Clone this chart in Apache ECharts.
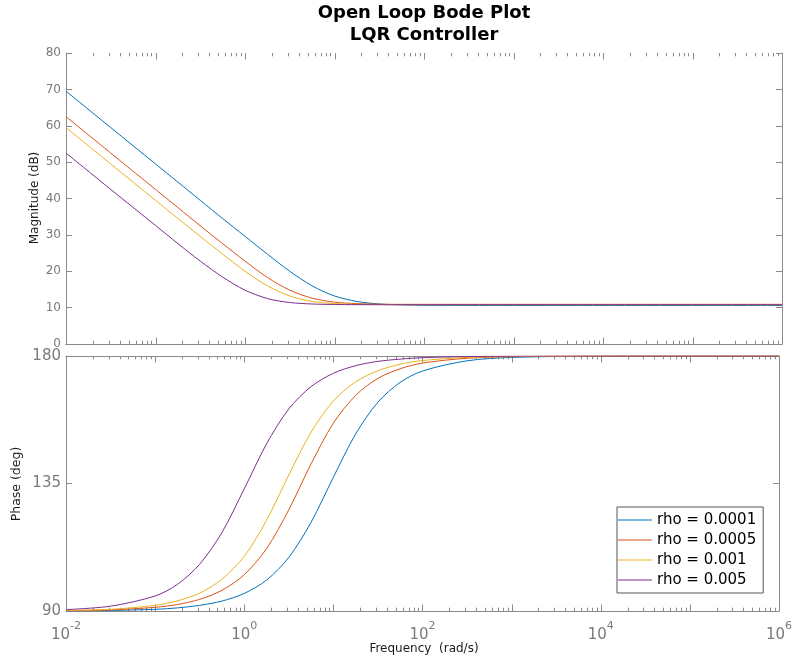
<!DOCTYPE html>
<html>
<head>
<meta charset="utf-8">
<script src="https://cdn.jsdelivr.net/npm/echarts@6/dist/echarts.min.js"></script>
<style>
  html, body { margin: 0; padding: 0; background: #ffffff; }
  #chart { width: 795px; height: 659px; }
</style>
</head>
<body>
<div id="chart"></div>
<script>
// Frequency samples (rad/s)
const freq = [0.01, 0.0316, 0.1, 0.178, 0.316, 0.562, 1, 1.78, 3.16, 5.62,
              10, 17.8, 31.6, 56.2, 100, 316, 1000, 10000, 100000, 1000000];

const seriesNames = ['rho = 0.0001', 'rho = 0.0005', 'rho = 0.001', 'rho = 0.005'];

// Magnitude (dB)
const magRho0001 = [69.5, 59.5, 49.5, 44.5, 39.5, 34.5, 29.6, 24.7, 20.0, 16.0,
                    13.2, 11.7, 11.0, 10.75, 10.65, 10.6, 10.6, 10.6, 10.6, 10.6];
const magRho0005 = [62.5, 52.5, 42.5, 37.5, 32.5, 27.6, 22.8, 18.3, 14.8, 12.6,
                    11.5, 11.1, 10.95, 10.9, 10.9, 10.9, 10.9, 10.9, 10.9, 10.9];
const magRho001  = [59.5, 49.5, 39.5, 34.5, 29.6, 24.7, 20.0, 16.0, 13.2, 11.7,
                    11.1, 10.9, 10.83, 10.8, 10.8, 10.8, 10.8, 10.8, 10.8, 10.8];
const magRho005  = [52.5, 42.5, 32.6, 27.6, 22.8, 18.4, 14.8, 12.5, 11.4, 11.0,
                    10.86, 10.82, 10.8, 10.8, 10.8, 10.8, 10.8, 10.8, 10.8, 10.8];

// Phase (deg)
const phaseRho0001 = [90.1, 90.2, 90.6, 91.1, 92.0, 93.5, 96.2, 100.9, 108.9, 121.3,
                      137.2, 152.5, 163.7, 170.7, 174.7, 178.3, 179.5, 179.95, 180, 180];
const phaseRho0005 = [90.1, 90.4, 91.3, 92.3, 94.1, 97.3, 102.8, 112.0, 125.7, 141.9,
                      156.3, 166.1, 172.1, 175.5, 177.5, 179.2, 179.75, 179.97, 180, 180];
const phaseRho001  = [90.2, 90.6, 92.0, 93.6, 96.3, 101.2, 109.3, 122.0, 138.0, 153.1,
                      164.1, 170.9, 174.8, 177.1, 178.4, 179.5, 179.8, 179.98, 180, 180];
const phaseRho005  = [90.5, 91.7, 95.3, 99.4, 106.5, 117.7, 133.1, 149.0, 161.3, 169.2,
                      173.9, 176.6, 178.1, 178.9, 179.4, 179.8, 179.94, 180, 180, 180];

// Decades that carry a label on the frequency axis
const freqLabelExponents = [-2, 0, 2, 4, 6];

const colors = ['#0072BD', '#D95319', '#EDB120', '#7E2F8E'];
const axisColor = '#8a8a8a';
const labelColor = '#7a7a7a';
const font = 'DejaVu Sans';

const magSets = [magRho0001, magRho0005, magRho001, magRho005];
const phaseSets = [phaseRho0001, phaseRho0005, phaseRho001, phaseRho005];

const pairs = (ys) => freq.map((f, i) => [f, ys[i]]);

// Log ticks: decades get long marks, 2..9 within each decade get short marks
const logTicks = [];
for (let e = -2; e <= 6; e++) {
  logTicks.push([Math.pow(10, e), 6.5]);
  if (e < 6) {
    for (let m = 2; m <= 9; m++) logTicks.push([m * Math.pow(10, e), 3.3]);
  }
}

function logTickSeries(xIdx, yIdx, yMin, yMax) {
  return {
    type: 'custom',
    xAxisIndex: xIdx,
    yAxisIndex: yIdx,
    silent: true,
    clip: false,
    z: 1,
    encode: { x: 0, y: 1 },
    data: logTicks.map(t => [t[0], yMin, t[1]]),
    renderItem(params, api) {
      const x = api.value(0);
      const len = api.value(2);
      const pb = api.coord([x, yMin]);
      const pt = api.coord([x, yMax]);
      const px = Math.round(pb[0]) + 0.5;
      return {
        type: 'group',
        children: [
          { type: 'line', shape: { x1: px, y1: pb[1], x2: px, y2: pb[1] - len },
            style: { stroke: axisColor, lineWidth: 1 } },
          { type: 'line', shape: { x1: px, y1: pt[1], x2: px, y2: pt[1] + len },
            style: { stroke: axisColor, lineWidth: 1 } }
        ]
      };
    }
  };
}

function freqAxis(gridIndex, position, showLabels) {
  return {
    type: 'log',
    logBase: 10,
    gridIndex,
    position,
    min: 0.01,
    max: 1000000,
    axisLine: { show: true, lineStyle: { color: axisColor, width: 1 } },
    axisTick: { show: false },
    splitLine: { show: false },
    axisLabel: showLabels ? {
      show: true,
      margin: 10,
      formatter(value) {
        const e = Math.round(Math.log10(value));
        if (freqLabelExponents.indexOf(e) < 0) return '';
        return '{b|10}{s|' + e + '}';
      },
      rich: {
        b: { fontSize: 15, fontFamily: font, color: labelColor, lineHeight: 22, verticalAlign: 'bottom' },
        s: { fontSize: 11, fontFamily: font, color: labelColor, lineHeight: 22, verticalAlign: 'top' }
      }
    } : { show: false }
  };
}

function valueAxis(gridIndex, position, min, max, interval, labelSize) {
  return {
    type: 'value',
    gridIndex,
    position,
    min,
    max,
    interval,
    axisLine: { show: true, lineStyle: { color: axisColor, width: 1 } },
    axisTick: { show: true, inside: true, length: 6, lineStyle: { color: axisColor } },
    splitLine: { show: false },
    axisLabel: labelSize ? {
      show: true, margin: 5, fontSize: labelSize, fontFamily: font, color: labelColor
    } : { show: false }
  };
}

const series = [];
seriesNames.forEach((name, i) => {
  series.push({
    name, type: 'line', xAxisIndex: 0, yAxisIndex: 0,
    data: pairs(magSets[i]), symbol: 'none', smooth: 0.3,
    lineStyle: { width: 1, color: colors[i] }, itemStyle: { color: colors[i] }, z: 3
  });
  series.push({
    name, type: 'line', xAxisIndex: 2, yAxisIndex: 2,
    data: pairs(phaseSets[i]), symbol: 'none', smooth: 0.3,
    lineStyle: { width: 1, color: colors[i] }, itemStyle: { color: colors[i] }, z: 3
  });
});
series.push(logTickSeries(0, 0, 0, 80));
series.push(logTickSeries(2, 2, 90, 180));

const chart = echarts.init(document.getElementById('chart'), null, { renderer: 'canvas' });
chart.setOption({
  animation: false,
  backgroundColor: '#ffffff',
  color: colors,
  grid: [
    { left: 66, top: 53, width: 716, height: 291, containLabel: false },
    { left: 66, top: 356, width: 716, height: 255, containLabel: false }
  ],
  xAxis: [
    freqAxis(0, 'bottom', false),
    freqAxis(0, 'top', false),
    freqAxis(1, 'bottom', true),
    freqAxis(1, 'top', false)
  ],
  yAxis: [
    valueAxis(0, 'left', 0, 80, 10, 12),
    valueAxis(0, 'right', 0, 80, 10, 0),
    valueAxis(1, 'left', 90, 180, 45, 15),
    valueAxis(1, 'right', 90, 180, 45, 0)
  ],
  legend: {
    data: seriesNames,
    orient: 'vertical',
    left: 617,
    top: 507,
    icon: 'rect',
    itemWidth: 34,
    itemHeight: 1,
    itemGap: 0,
    padding: [3, 7, 3, 1],
    borderColor: '#555555',
    borderWidth: 1,
    backgroundColor: '#ffffff',
    textStyle: { fontSize: 15, fontFamily: font, color: '#000000', lineHeight: 20 }
  },
  graphic: [
    { type: 'text', x: 424, y: 13, silent: true,
      style: { text: 'Open Loop Bode Plot', fontSize: 18, fontWeight: 'bold', fontFamily: font,
               fill: '#000000', textAlign: 'center', textVerticalAlign: 'middle', align: 'center', verticalAlign: 'middle' } },
    { type: 'text', x: 424, y: 35, silent: true,
      style: { text: 'LQR Controller', fontSize: 18, fontWeight: 'bold', fontFamily: font,
               fill: '#000000', textAlign: 'center', textVerticalAlign: 'middle', align: 'center', verticalAlign: 'middle' } },
    { type: 'text', x: 35, y: 198, rotation: Math.PI / 2, silent: true,
      style: { text: 'Magnitude (dB)', fontSize: 12, fontFamily: font, fill: '#1a1a1a',
               textAlign: 'center', textVerticalAlign: 'middle', align: 'center', verticalAlign: 'middle' } },
    { type: 'text', x: 17, y: 484, rotation: Math.PI / 2, silent: true,
      style: { text: 'Phase (deg)', fontSize: 12.5, fontFamily: font, fill: '#1a1a1a',
               textAlign: 'center', textVerticalAlign: 'middle', align: 'center', verticalAlign: 'middle' } },
    { type: 'text', x: 424, y: 649, silent: true,
      style: { text: 'Frequency  (rad/s)', fontSize: 12, fontFamily: font, fill: '#1a1a1a',
               textAlign: 'center', textVerticalAlign: 'middle', align: 'center', verticalAlign: 'middle' } }
  ],
  series
});
</script>
</body>
</html>
